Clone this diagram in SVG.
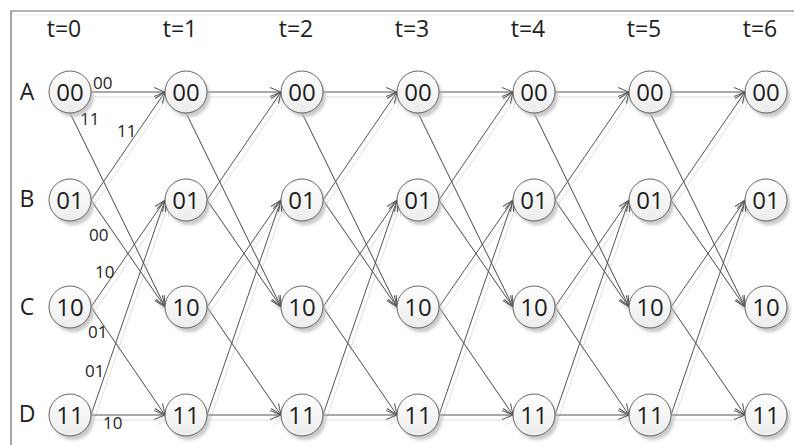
<svg xmlns="http://www.w3.org/2000/svg" xmlns:xlink="http://www.w3.org/1999/xlink" width="794" height="445" viewBox="0 0 794 445">
<style>
.t{font-family:"Open Sans","Liberation Sans",sans-serif;fill:#1e1e1e;}
.hdr{font-size:23px;text-anchor:middle;}
.row{font-size:23px;text-anchor:middle;}
.nt{font-size:24px;text-anchor:middle;}
.lb{font-size:17px;}
.e{stroke:#555555;stroke-width:1;fill:none;marker-end:url(#arr);}
.n{fill:url(#g);stroke:#666666;stroke-width:1;}
.sh{fill:#b8b8b8;filter:url(#blur);opacity:0.75;}
</style>
<defs>
<marker id="arr" markerUnits="userSpaceOnUse" markerWidth="14" markerHeight="12" refX="12" refY="6" orient="auto">
<path d="M1,1.5 L12,6 L1,10.5" fill="none" stroke="#555555" stroke-width="1"/>
</marker>
<linearGradient id="g" x1="0" y1="0" x2="0" y2="1">
<stop offset="0" stop-color="#ffffff"/>
<stop offset="1" stop-color="#ececec"/>
</linearGradient>
<filter id="blur" x="-20%" y="-20%" width="140%" height="140%">
<feGaussianBlur stdDeviation="1.6"/>
</filter>
</defs>
<rect width="794" height="445" fill="#ffffff"/>
<path d="M12,15 H794" stroke="#ececec" stroke-width="1" fill="none"/>
<path d="M11,445 V11 H794" stroke="#6d6d6d" stroke-width="1.2" fill="none"/>

<g id="headers">
<text class="t hdr" x="64" y="37">t=0</text>
<text class="t hdr" x="180" y="37">t=1</text>
<text class="t hdr" x="296" y="37">t=2</text>
<text class="t hdr" x="412" y="37">t=3</text>
<text class="t hdr" x="528" y="37">t=4</text>
<text class="t hdr" x="644" y="37">t=5</text>
<text class="t hdr" x="760" y="37">t=6</text>
</g>
<g id="rowlabels">
<text class="t row" x="27" y="100">A</text>
<text class="t row" x="27" y="207">B</text>
<text class="t row" x="27" y="315">C</text>
<text class="t row" x="27" y="422">D</text>
</g>

<use xlink:href="#connectors" href="#connectors" transform="translate(3,5)" opacity="0.18"/>
<g id="connectors">
<path class="e" d="M91,92 L165,92"/>
<path class="e" d="M70,113 L165,307"/>
<path class="e" d="M91,200 L165,92"/>
<path class="e" d="M91,200 L165,307"/>
<path class="e" d="M91,307 L165,200"/>
<path class="e" d="M91,307 L165,415"/>
<path class="e" d="M91,415 L165,200"/>
<path class="e" d="M91,415 L165,415"/>

<path class="e" d="M207,92 L281,92"/>
<path class="e" d="M186,113 L281,307"/>
<path class="e" d="M207,200 L281,92"/>
<path class="e" d="M207,200 L281,307"/>
<path class="e" d="M207,307 L281,200"/>
<path class="e" d="M207,307 L281,415"/>
<path class="e" d="M207,415 L281,200"/>
<path class="e" d="M207,415 L281,415"/>

<path class="e" d="M323,92 L397,92"/>
<path class="e" d="M302,113 L397,307"/>
<path class="e" d="M323,200 L397,92"/>
<path class="e" d="M323,200 L397,307"/>
<path class="e" d="M323,307 L397,200"/>
<path class="e" d="M323,307 L397,415"/>
<path class="e" d="M323,415 L397,200"/>
<path class="e" d="M323,415 L397,415"/>

<path class="e" d="M439,92 L513,92"/>
<path class="e" d="M418,113 L513,307"/>
<path class="e" d="M439,200 L513,92"/>
<path class="e" d="M439,200 L513,307"/>
<path class="e" d="M439,307 L513,200"/>
<path class="e" d="M439,307 L513,415"/>
<path class="e" d="M439,415 L513,200"/>
<path class="e" d="M439,415 L513,415"/>

<path class="e" d="M555,92 L629,92"/>
<path class="e" d="M534,113 L629,307"/>
<path class="e" d="M555,200 L629,92"/>
<path class="e" d="M555,200 L629,307"/>
<path class="e" d="M555,307 L629,200"/>
<path class="e" d="M555,307 L629,415"/>
<path class="e" d="M555,415 L629,200"/>
<path class="e" d="M555,415 L629,415"/>

<path class="e" d="M671,92 L745,92"/>
<path class="e" d="M650,113 L745,307"/>
<path class="e" d="M671,200 L745,92"/>
<path class="e" d="M671,200 L745,307"/>
<path class="e" d="M671,307 L745,200"/>
<path class="e" d="M671,307 L745,415"/>
<path class="e" d="M671,415 L745,200"/>
<path class="e" d="M671,415 L745,415"/>
</g>

<g id="edgelabels">
<text class="t lb" x="93" y="89">00</text>
<text class="t lb" x="80" y="125">11</text>
<text class="t lb" x="117" y="137">11</text>
<text class="t lb" x="89" y="241">00</text>
<text class="t lb" x="95" y="278">10</text>
<text class="t lb" x="88" y="338">01</text>
<text class="t lb" x="85" y="377">01</text>
<text class="t lb" x="103" y="429">10</text>
</g>

<g id="n0A"><circle class="sh" cx="73" cy="96" r="21"/><circle class="n" cx="70" cy="92" r="21"/><text class="t nt" x="70" y="100.5">00</text></g>
<g id="n0B"><circle class="sh" cx="73" cy="204" r="21"/><circle class="n" cx="70" cy="200" r="21"/><text class="t nt" x="70" y="208.5">01</text></g>
<g id="n0C"><circle class="sh" cx="73" cy="311" r="21"/><circle class="n" cx="70" cy="307" r="21"/><text class="t nt" x="70" y="315.5">10</text></g>
<g id="n0D"><circle class="sh" cx="73" cy="419" r="21"/><circle class="n" cx="70" cy="415" r="21"/><text class="t nt" x="70" y="423.5">11</text></g>

<g id="n1A"><circle class="sh" cx="189" cy="96" r="21"/><circle class="n" cx="186" cy="92" r="21"/><text class="t nt" x="186" y="100.5">00</text></g>
<g id="n1B"><circle class="sh" cx="189" cy="204" r="21"/><circle class="n" cx="186" cy="200" r="21"/><text class="t nt" x="186" y="208.5">01</text></g>
<g id="n1C"><circle class="sh" cx="189" cy="311" r="21"/><circle class="n" cx="186" cy="307" r="21"/><text class="t nt" x="186" y="315.5">10</text></g>
<g id="n1D"><circle class="sh" cx="189" cy="419" r="21"/><circle class="n" cx="186" cy="415" r="21"/><text class="t nt" x="186" y="423.5">11</text></g>

<g id="n2A"><circle class="sh" cx="305" cy="96" r="21"/><circle class="n" cx="302" cy="92" r="21"/><text class="t nt" x="302" y="100.5">00</text></g>
<g id="n2B"><circle class="sh" cx="305" cy="204" r="21"/><circle class="n" cx="302" cy="200" r="21"/><text class="t nt" x="302" y="208.5">01</text></g>
<g id="n2C"><circle class="sh" cx="305" cy="311" r="21"/><circle class="n" cx="302" cy="307" r="21"/><text class="t nt" x="302" y="315.5">10</text></g>
<g id="n2D"><circle class="sh" cx="305" cy="419" r="21"/><circle class="n" cx="302" cy="415" r="21"/><text class="t nt" x="302" y="423.5">11</text></g>

<g id="n3A"><circle class="sh" cx="421" cy="96" r="21"/><circle class="n" cx="418" cy="92" r="21"/><text class="t nt" x="418" y="100.5">00</text></g>
<g id="n3B"><circle class="sh" cx="421" cy="204" r="21"/><circle class="n" cx="418" cy="200" r="21"/><text class="t nt" x="418" y="208.5">01</text></g>
<g id="n3C"><circle class="sh" cx="421" cy="311" r="21"/><circle class="n" cx="418" cy="307" r="21"/><text class="t nt" x="418" y="315.5">10</text></g>
<g id="n3D"><circle class="sh" cx="421" cy="419" r="21"/><circle class="n" cx="418" cy="415" r="21"/><text class="t nt" x="418" y="423.5">11</text></g>

<g id="n4A"><circle class="sh" cx="537" cy="96" r="21"/><circle class="n" cx="534" cy="92" r="21"/><text class="t nt" x="534" y="100.5">00</text></g>
<g id="n4B"><circle class="sh" cx="537" cy="204" r="21"/><circle class="n" cx="534" cy="200" r="21"/><text class="t nt" x="534" y="208.5">01</text></g>
<g id="n4C"><circle class="sh" cx="537" cy="311" r="21"/><circle class="n" cx="534" cy="307" r="21"/><text class="t nt" x="534" y="315.5">10</text></g>
<g id="n4D"><circle class="sh" cx="537" cy="419" r="21"/><circle class="n" cx="534" cy="415" r="21"/><text class="t nt" x="534" y="423.5">11</text></g>

<g id="n5A"><circle class="sh" cx="653" cy="96" r="21"/><circle class="n" cx="650" cy="92" r="21"/><text class="t nt" x="650" y="100.5">00</text></g>
<g id="n5B"><circle class="sh" cx="653" cy="204" r="21"/><circle class="n" cx="650" cy="200" r="21"/><text class="t nt" x="650" y="208.5">01</text></g>
<g id="n5C"><circle class="sh" cx="653" cy="311" r="21"/><circle class="n" cx="650" cy="307" r="21"/><text class="t nt" x="650" y="315.5">10</text></g>
<g id="n5D"><circle class="sh" cx="653" cy="419" r="21"/><circle class="n" cx="650" cy="415" r="21"/><text class="t nt" x="650" y="423.5">11</text></g>

<g id="n6A"><circle class="sh" cx="769" cy="96" r="21"/><circle class="n" cx="766" cy="92" r="21"/><text class="t nt" x="766" y="100.5">00</text></g>
<g id="n6B"><circle class="sh" cx="769" cy="204" r="21"/><circle class="n" cx="766" cy="200" r="21"/><text class="t nt" x="766" y="208.5">01</text></g>
<g id="n6C"><circle class="sh" cx="769" cy="311" r="21"/><circle class="n" cx="766" cy="307" r="21"/><text class="t nt" x="766" y="315.5">10</text></g>
<g id="n6D"><circle class="sh" cx="769" cy="419" r="21"/><circle class="n" cx="766" cy="415" r="21"/><text class="t nt" x="766" y="423.5">11</text></g>
</svg>
